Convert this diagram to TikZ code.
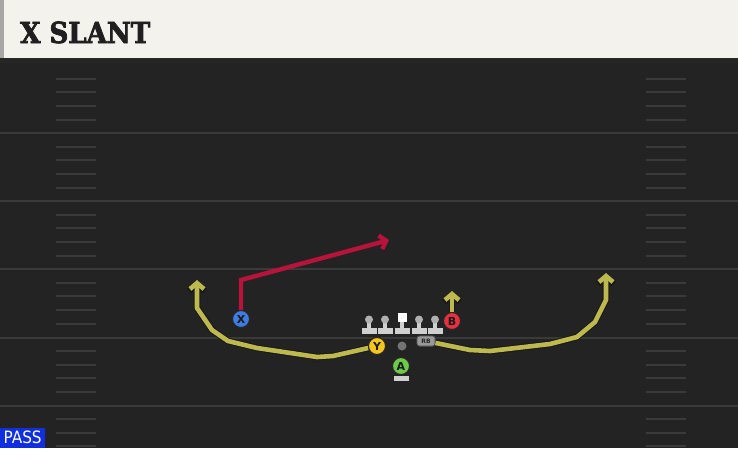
\documentclass[tikz,border=0pt]{standalone}
\usepackage{fontspec}
\usetikzlibrary{arrows.meta}
\newfontfamily\titlefont[BoldFeatures={FakeBold=2.5}]{DejaVu Serif Condensed}
\newfontfamily\sansf{DejaVu Sans}
\newfontfamily\condf{DejaVu Sans Condensed}
\definecolor{fieldbg}{HTML}{232323}
\definecolor{fieldline}{HTML}{3A3A3A}
\definecolor{hashc}{HTML}{3A3A3A}
\definecolor{headbg}{HTML}{F4F2EC}
\definecolor{routey}{HTML}{BDB94E}
\definecolor{router}{HTML}{B8133A}
\definecolor{px}{HTML}{3E7CE0}
\definecolor{py}{HTML}{F2C61C}
\definecolor{pb}{HTML}{E3313F}
\definecolor{pa}{HTML}{6EC94A}
\definecolor{passblue}{HTML}{0F2FE0}
\definecolor{lineman}{HTML}{CFCFCF}
\tikzset{
  fieldln/.style={draw=fieldline,line width=2pt},
  hashmk/.style={draw=hashc,line width=1.6pt},
  player/.style={circle,draw=black!85,line width=1pt,minimum size=17pt,inner sep=0pt,font=\sansf\bfseries\fontsize{11}{11}\selectfont,text=black!90},
  yroute/.style={draw=routey,line width=4.6pt,line join=round,
     -{Straight Barb[length=6pt,width=14pt,line width=4.6pt]},
     preaction={draw=black!90,line width=6.6pt,-{Straight Barb[length=6.6pt,width=16pt,line width=6.6pt]}}},
  rroute/.style={draw=router,line width=4.4pt,line join=miter,
     -{Straight Barb[length=6pt,width=14pt,line width=4.4pt]}},
  lmhead/.style={circle,fill=lineman!85!black,inner sep=0pt,minimum size=8pt},
  lmbase/.style={fill=lineman,inner sep=0pt},
  rbtag/.style={fill=black!40,draw=black!70,line width=0.6pt,rounded corners=2.5pt,inner sep=0pt,minimum width=18pt,minimum height=10pt,font=\sansf\bfseries\fontsize{6}{6}\selectfont,text=black!85},
}
\begin{document}
\begin{tikzpicture}[x=1pt,y=-1pt]
\useasboundingbox (0,0) rectangle (738,448);
% background
\fill[fieldbg] (0,0) rectangle (738,448);
\fill[black!85] (0,57) rectangle (738,63);
\fill[headbg] (0,0) rectangle (738,58);
\fill[black!35] (0,0) rectangle (4,58);
\node[anchor=base west,inner sep=0pt,font=\titlefont\bfseries\fontsize{29}{29}\selectfont,text=black!88] (title) at (20,43) {X SLANT};
% field lines
\foreach \yy in {133,201,269,338,406} {
  \draw[fieldln] (0,\yy) -- (738,\yy);
}
% hash marks
\foreach \yy in {79,92,106,120,147,160,174,188,215,228,242,256,283,296,310,324,351,365,378,392,419,433,446} {
  \draw[hashmk] (56,\yy) -- (96,\yy);
  \draw[hashmk] (646,\yy) -- (686,\yy);
}
% linemen
\foreach \xx/\nm in {369/lt,385/lg,419/rg,435/rt} {
  \fill[lineman] (\xx-2.2,321) rectangle (\xx+2.2,329);
  \node[lmhead] (\nm) at (\xx,319.5) {};
  \fill[lmbase] (\xx-7.5,327.5) rectangle (\xx+7.5,333.5);
}
\fill[lineman] (399.8,320) rectangle (404.2,329);
\node[fill=white,inner sep=0pt,minimum size=9pt] (ctr) at (402,317.5) {};
\fill[lmbase] (394.5,327.5) rectangle (409.5,333.5);
% center ball dot
\node[circle,fill=black!55,inner sep=0pt,minimum size=9pt] (ball) at (402,346) {};
% route coordinates
\coordinate (l1) at (333,356);
\coordinate (l2) at (317,357);
\coordinate (l3) at (257,348);
\coordinate (l4) at (228,341);
\coordinate (l5) at (212,330);
\coordinate (l6) at (197,308);
\coordinate (ltip) at (197,280);
\coordinate (r1) at (470,350);
\coordinate (r2) at (490,351);
\coordinate (r3) at (550,344);
\coordinate (r4) at (577,337);
\coordinate (r5) at (595,322);
\coordinate (r6) at (606,300);
\coordinate (rtip) at (606,273);
\coordinate (btip) at (452,291);
\coordinate (xc) at (241,280);
\coordinate (xtip) at (389,240);
% RB
\node[rbtag] (rb) at (426,341) {RB};
% players
\node[player,fill=py] (Y) at (377,346) {Y};
\node[player,fill=pb] (B) at (452,321) {B};
\node[player,fill=px] (X) at (241,319) {X};
\node[player,fill=pa] (A) at (401,366) {A};
\fill[lineman] (394,376) rectangle (409,381);
% routes
\draw[yroute] (Y) -- (l1) -- (l2) -- (l3) -- (l4) -- (l5) -- (l6) -- (ltip);
\draw[yroute] (rb) -- (r1) -- (r2) -- (r3) -- (r4) -- (r5) -- (r6) -- (rtip);
\draw[yroute] (B) -- (btip);
\draw[rroute] (X) -- (xc) -- (xtip);
% redraw players on top
\node[player,fill=py] at (Y) {Y};
\node[player,fill=pb] at (B) {B};
\node[player,fill=px] at (X) {X};
\node[rbtag] at (rb) {RB};
% PASS label
\node[fill=passblue,anchor=south west,inner sep=0pt,minimum width=45pt,minimum height=20pt,text=white,font=\condf\fontsize{17}{17}\selectfont] (pass) at (0,448) {PASS};
\end{tikzpicture}
\end{document}
